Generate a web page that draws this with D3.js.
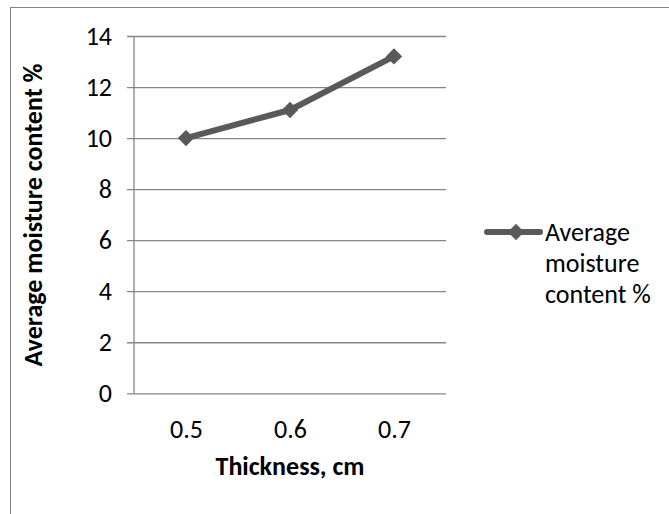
<!DOCTYPE html>
<html>
<head>
<meta charset="utf-8">
<script src="https://cdn.jsdelivr.net/npm/d3@7/dist/d3.min.js"></script>
<style>
  body { margin: 0; background: #fff; }
  text { font-family: Carlito, Calibri, "Open Sans", sans-serif; fill: #000; }
</style>
</head>
<body>
<div id="chart"></div>
<script>
// values
var thickness = ["0.5", "0.6", "0.7"];
var moisture = [10.0, 11.1, 13.2];
var yTicks = [0, 2, 4, 6, 8, 10, 12, 14];
var seriesName = ["Average", "moisture", "content %"];

var width = 669, height = 514;
var grey = "#868686", lineColor = "#595959";

var svg = d3.select("#chart").append("svg")
    .attr("width", width)
    .attr("height", height);

// chart area border (runs off the right and bottom edge)
svg.append("rect")
    .attr("x", 10.5).attr("y", 7.5)
    .attr("width", 800).attr("height", 800)
    .attr("fill", "none")
    .attr("stroke", grey);

var x = d3.scalePoint().domain(thickness).range([134, 446]).padding(0.5);
var y = d3.scaleLinear().domain([0, 14]).range([393.3, 36]);

// gridlines + left ticks
var yAxis = svg.append("g")
    .attr("transform", "translate(134,0)")
    .call(d3.axisLeft(y).tickValues(yTicks).tickSize(-312).tickPadding(22).tickSizeOuter(0));
yAxis.select(".domain").remove();
yAxis.selectAll(".tick line")
    .attr("stroke", grey)
    .attr("x1", -7)
    .attr("stroke-width", 1.3);
yAxis.selectAll(".tick text")
    .attr("fill", "#000")
    .style("font-size", "26px")
    .attr("font-family", null);

// vertical axis line
svg.append("line")
    .attr("x1", 134).attr("x2", 134)
    .attr("y1", y(14)).attr("y2", y(0))
    .attr("stroke", grey).attr("stroke-width", 1.3);

// category labels
var xAxis = svg.append("g")
    .attr("transform", "translate(0," + y(0) + ")")
    .call(d3.axisBottom(x).tickSize(0).tickPadding(26));
xAxis.select(".domain").remove();
xAxis.selectAll(".tick text")
    .attr("fill", "#000")
    .style("font-size", "26px")
    .attr("font-family", null);

// series line
var line = d3.line()
    .x(function(d, i) { return x(thickness[i]); })
    .y(function(d) { return y(d); });

svg.append("path")
    .datum(moisture)
    .attr("d", line)
    .attr("fill", "none")
    .attr("stroke", lineColor)
    .attr("stroke-width", 6)
    .attr("stroke-linejoin", "round");

var diamond = d3.symbol().type(d3.symbolDiamond2).size(170);

svg.selectAll(".marker")
    .data(moisture)
    .enter().append("path")
    .attr("class", "marker")
    .attr("d", diamond)
    .attr("transform", function(d, i) { return "translate(" + x(thickness[i]) + "," + y(d) + ")"; })
    .attr("fill", lineColor);

// axis titles
svg.append("text")
    .attr("x", 290).attr("y", 475)
    .attr("text-anchor", "middle")
    .style("font-size", "26px")
    .style("font-weight", "bold")
    .text("Thickness, cm");

svg.append("text")
    .attr("transform", "translate(42,215) rotate(-90)")
    .attr("text-anchor", "middle")
    .style("font-size", "26px")
    .style("font-weight", "bold")
    .text("Average moisture content %");

// legend
var legend = svg.append("g");
legend.append("line")
    .attr("x1", 487).attr("x2", 540)
    .attr("y1", 232).attr("y2", 232)
    .attr("stroke", lineColor)
    .attr("stroke-width", 6)
    .attr("stroke-linecap", "round");
legend.append("path")
    .attr("d", diamond)
    .attr("transform", "translate(516,232)")
    .attr("fill", lineColor);
legend.selectAll(".lg")
    .data(seriesName)
    .enter().append("text")
    .attr("class", "lg")
    .attr("x", 545)
    .attr("y", function(d, i) { return 241 + i * 31; })
    .style("font-size", "26px")
    .text(function(d) { return d; });
</script>
</body>
</html>
